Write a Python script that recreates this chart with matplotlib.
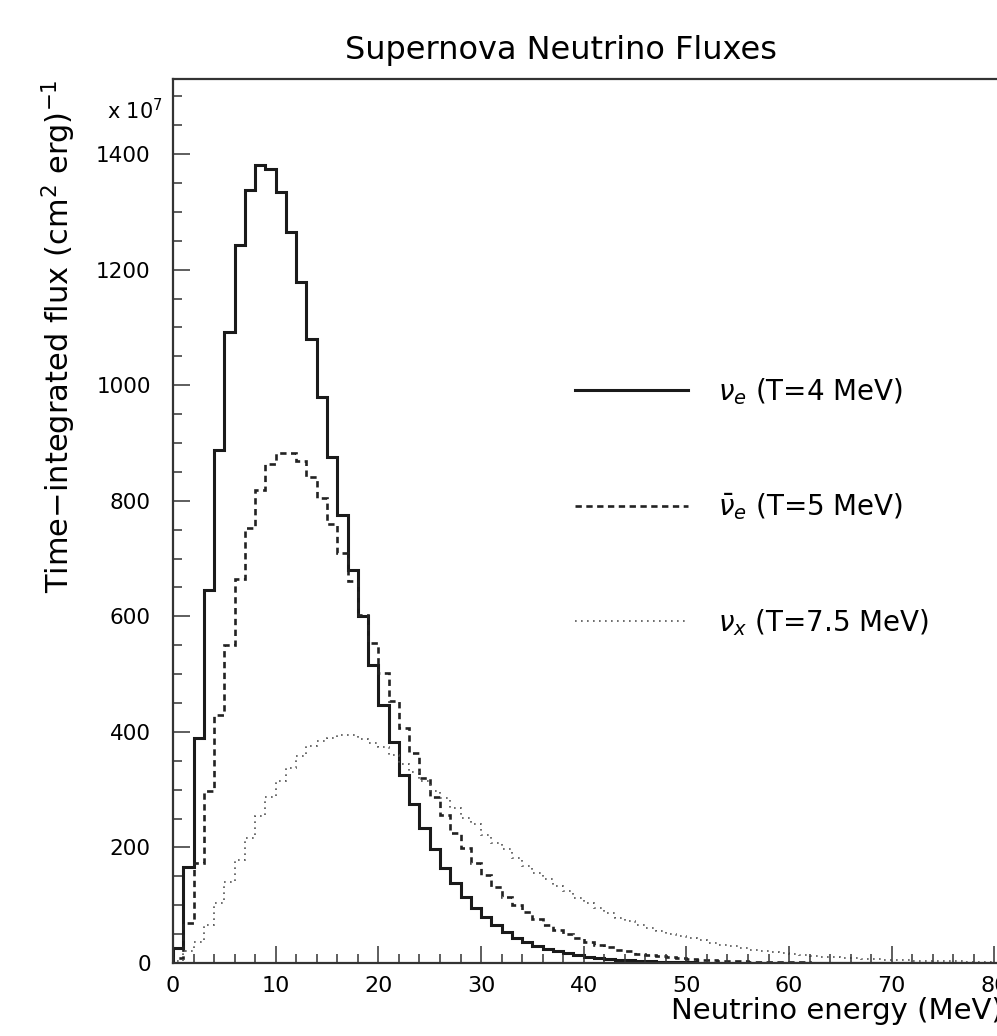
import numpy as np
import matplotlib
matplotlib.use('Agg')
import matplotlib.pyplot as plt
from matplotlib.ticker import MultipleLocator

# energy bins (MeV), 1 MeV wide
energy_edges = np.arange(0, 81, 1)

# time-integrated flux per bin, units of 1e7 (cm^2 erg)^-1
flux_nue = [26, 167, 390, 645, 888, 1092, 1243, 1338, 1381, 1375,
            1334, 1265, 1178, 1080, 979, 876, 776, 681, 600, 515,
            446, 382, 326, 276, 233, 197, 164, 139, 115, 96,
            80, 66, 53, 44, 36, 29, 24, 20, 17, 14,
            11, 9, 7, 5.5, 4.4, 3.5, 2.8, 2.2, 1.7, 1.3,
            1.0, 0.8, 0.6, 0.5, 0.4, 0.3, 0.25, 0.2, 0.15, 0.1,
            0.1, 0.08, 0.06, 0.05, 0.04, 0.03, 0.02, 0.02, 0.01, 0.01,
            0, 0, 0, 0, 0, 0, 0, 0, 0, 0]

flux_nuebar = [9, 70, 173, 297, 430, 551, 664, 753, 818, 863,
               883, 883, 869, 842, 805, 759, 710, 661, 603, 554,
               502, 453, 407, 363, 320, 288, 256, 225, 199, 173,
               152, 132, 115, 100, 89, 77, 66, 57, 50, 43,
               37, 31, 28, 23, 20, 16, 14, 12, 10, 8.5,
               7, 6, 5, 4.2, 3.5, 2.9, 2.4, 2.0, 1.6, 1.3,
               1.1, 0.9, 0.75, 0.6, 0.5, 0.4, 0.33, 0.27, 0.22, 0.18,
               0.15, 0.12, 0.1, 0.08, 0.07, 0.05, 0.04, 0.03, 0.03, 0.02]

flux_nux = [4, 20, 37, 66, 103, 141, 179, 217, 255, 288,
            315, 338, 359, 375, 385, 390, 394, 394, 388, 381,
            373, 360, 344, 330, 315, 298, 286, 269, 251, 240,
            222, 208, 197, 182, 168, 156, 145, 133, 124, 113,
            104, 95, 87, 78, 72, 66, 61, 56, 51, 47,
            43, 39, 35, 32, 29, 26, 23, 21, 19, 17,
            15, 13.5, 12, 11, 10, 9, 8, 7, 6.3, 5.7,
            5, 4.5, 4, 3.6, 3.2, 2.9, 2.6, 2.3, 2, 1.8]

labels = [r'$\nu_e$ (T=4 MeV)', r'$\bar{\nu}_e$ (T=5 MeV)', r'$\nu_x$ (T=7.5 MeV)']


def main():
    plt.rcParams['font.family'] = ['DejaVu Sans']
    plt.rcParams['mathtext.fontset'] = 'dejavusans'

    W, H = 997, 1036
    fig = plt.figure(figsize=(W / 100, H / 100), dpi=100)
    # axes: x=0 at px 173, y=0 at px 963, top at px 79; x=80 at px 995
    ax = fig.add_axes([173 / W, 1 - 963 / H, 842 / W, 884 / H])

    ax.stairs(flux_nue, energy_edges, color='#1a1a1a', lw=2.2, label=labels[0])
    ax.stairs(flux_nuebar, energy_edges, color='#222222', lw=1.9,
              ls=(0, (2.4, 1.7)), label=labels[1])
    ax.stairs(flux_nux, energy_edges, color='#555555', lw=1.2,
              ls=(0, (1, 2.6)), label=labels[2])

    ax.set_xlim(0, 82)
    ax.set_ylim(0, 1530)

    ax.xaxis.set_major_locator(MultipleLocator(10))
    ax.xaxis.set_minor_locator(MultipleLocator(2))
    ax.yaxis.set_major_locator(MultipleLocator(200))
    ax.yaxis.set_minor_locator(MultipleLocator(50))
    ax.tick_params(which='both', direction='in', top=False, right=False,
                   color='#333333', width=1.1)
    ax.tick_params(which='major', length=12)
    ax.tick_params(which='minor', length=6.5)
    ax.tick_params(axis='x', which='major', labelsize=16, pad=9)
    ax.tick_params(axis='y', which='major', labelsize=15.5, pad=16)

    for s in ax.spines.values():
        s.set_linewidth(1.6)
        s.set_color('#333333')

    ax.set_xlabel('Neutrino energy (MeV)', fontsize=21, ha='right')
    ax.xaxis.set_label_coords((1003 - 173) / 842, -0.038)
    ax.set_ylabel(r'Time$-$integrated flux (cm$^{2}$ erg)$^{-1}$', fontsize=22,
                  loc='top')
    ax.yaxis.set_label_coords(-0.113, 1.0)

    fig.text(163 / W, 1 - 111 / H, r'x 10$^{7}$', ha='right', va='center',
             fontsize=15)
    fig.text(561 / W, 1 - 50 / H, 'Supernova Neutrino Fluxes', ha='center',
             va='center', fontsize=23)

    ax.legend(loc='upper left', bbox_to_anchor=((575 - 173) / 842, 0.664),
              frameon=False, fontsize=20, handlelength=4.05, handletextpad=1.08,
              labelspacing=3.05, borderpad=0, borderaxespad=0)

    fig.savefig('out.png', dpi=100)


if __name__ == '__main__':
    main()
